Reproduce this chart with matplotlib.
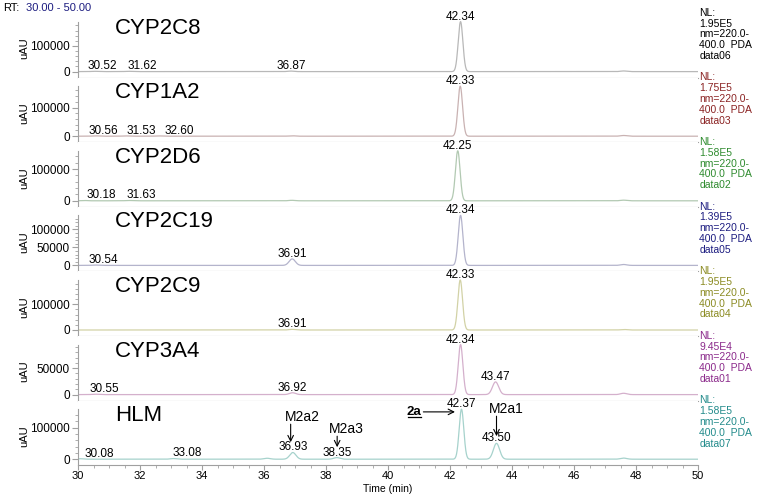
import numpy as np
import matplotlib
matplotlib.use("Agg")
import matplotlib.pyplot as plt
from matplotlib.ticker import FixedLocator, MultipleLocator

plt.rcParams['font.family'] = ['Liberation Sans', 'DejaVu Sans']

# panel names and full-scale (NL) values
enzymes = ["CYP2C8", "CYP1A2", "CYP2D6", "CYP2C19", "CYP2C9", "CYP3A4", "HLM"]
nl_values = [1.95e5, 1.75e5, 1.58e5, 1.39e5, 1.95e5, 9.45e4, 1.58e5]
nl_labels = ["1.95E5", "1.75E5", "1.58E5", "1.39E5", "1.95E5", "9.45E4", "1.58E5"]
data_files = ["data06", "data03", "data02", "data05", "data04", "data01", "data07"]

# peaks: retention time (min) and height (uAU)
peak_rt = [
    [30.52, 31.62, 36.87, 42.34, 47.6],
    [30.56, 31.53, 32.60, 36.9, 42.33, 47.6],
    [30.18, 31.63, 36.9, 42.25, 47.6],
    [30.54, 36.91, 42.34, 47.6],
    [36.91, 42.33, 47.6],
    [30.55, 36.92, 42.34, 43.47, 47.6],
    [30.08, 33.08, 36.1, 36.93, 38.35, 42.37, 43.50, 47.6],
]
peak_height = [
    [1200, 1200, 2000, 195000, 2500],
    [1200, 1000, 1000, 1500, 175000, 2500],
    [1000, 1000, 1500, 158000, 2000],
    [1000, 18000, 139000, 2500],
    [2500, 195000, 2000],
    [800, 3500, 94500, 24000, 2500],
    [1500, 2000, 3000, 21000, 5000, 158000, 50000, 3500],
]
# peaks that carry a retention-time label
labelled = [
    [30.52, 31.62, 36.87, 42.34],
    [30.56, 31.53, 32.60, 42.33],
    [30.18, 31.63, 42.25],
    [30.54, 36.91, 42.34],
    [36.91, 42.33],
    [30.55, 36.92, 42.34, 43.47],
    [30.08, 33.08, 36.93, 38.35, 42.37, 43.50],
]
major_y = [[0, 100000], [0, 100000], [0, 100000], [0, 50000, 100000],
           [0, 100000], [0, 50000], [0, 100000]]
minor_step = [20000, 20000, 20000, 10000, 20000, 10000, 20000]

# styling
trace_colors = ['#b8b8b8', '#c9b2b2', '#b2c9b2', '#b4b4cc', '#d2d2a6', '#d4b0cc', '#a6d2cc']
text_colors = ['#000000', '#8b2323', '#2e8b2e', '#1c1c80', '#8b8b22', '#8b2a8b', '#228b8b']
# labels of crowded early peaks are pushed right (pixels)
label_shift = {30.52: 8, 31.62: 14, 30.56: 8, 31.53: 16, 32.60: 21, 30.18: 18,
               31.63: 13, 30.54: 9, 30.55: 9, 30.08: 19, 33.08: 14}

x = np.linspace(30, 50, 4001)

W, H = 760, 496
fig = plt.figure(figsize=(W / 100, H / 100), dpi=100)
top_px, pitch = 13, 64.6
left_px, width_px = 78, 620

for i, name in enumerate(enzymes):
    y0 = H - (top_px + (i + 1) * pitch)
    ax = fig.add_axes([left_px / W, y0 / H, width_px / W, pitch / H])
    nl = nl_values[i]

    y = np.zeros_like(x)
    for rt, h in zip(peak_rt[i], peak_height[i]):
        sig = 0.075 if h > 0.5 * nl else 0.1
        y += h * np.exp(-0.5 * ((x - rt) / sig) ** 2)
    ax.plot(x, y, color=trace_colors[i], lw=0.9)

    ax.set_xlim(30, 50)
    ax.set_ylim(-0.12 * nl, 1.172 * nl)

    for rt in labelled[i]:
        h = np.interp(rt, x, y)
        dx = label_shift.get(rt, 0) * 0.72
        ax.annotate(f"{rt:.2f}", (rt, h), xytext=(dx, 1.5), textcoords='offset points',
                    ha='center', va='baseline', fontsize=8.5, color='black')

    ax.text(0.06, 0.93, name, transform=ax.transAxes, fontsize=16, va='top', ha='left')

    ax.text(1.002, 1.08, f"NL:\n{nl_labels[i]}\nnm=220.0-\n400.0  PDA\n{data_files[i]}",
            transform=ax.transAxes, fontsize=7.5, color=text_colors[i],
            va='top', ha='left', linespacing=1.1)

    for s in ['top', 'right']:
        ax.spines[s].set_visible(False)
    for s in ['left', 'bottom']:
        ax.spines[s].set_color('#a0a0a0')
        ax.spines[s].set_linewidth(0.8)
    ax.spines['left'].set_bounds(-0.12 * nl, nl)

    ax.yaxis.set_major_locator(FixedLocator(major_y[i]))
    ax.yaxis.set_minor_locator(FixedLocator(np.arange(0, nl, minor_step[i])))
    ax.tick_params(axis='y', which='major', labelsize=8.5, length=4, color='#a0a0a0', pad=2)
    ax.tick_params(axis='y', which='minor', length=2.5, color='#a0a0a0')
    ax.set_ylabel('uAU', fontsize=8)
    ax.yaxis.set_label_coords(-0.079, 0.45)

    if i < len(enzymes) - 1:
        ax.set_xticks([])
        ax.tick_params(axis='x', which='both', bottom=False, labelbottom=False)
    else:
        ax.xaxis.set_major_locator(MultipleLocator(2))
        ax.xaxis.set_minor_locator(MultipleLocator(0.5))
        ax.tick_params(axis='x', which='major', labelsize=8, length=3.5, color='#a0a0a0', pad=1)
        ax.tick_params(axis='x', which='minor', length=2.5, color='#a0a0a0')
        ax.set_xlabel('Time (min)', fontsize=7.5)
        ax.xaxis.set_label_coords(0.5, -0.285)

        arrow = dict(arrowstyle='->', color='black', lw=0.8, shrinkA=0, shrinkB=0)
        ax.annotate('', xy=(36.86, 53700), xytext=(36.86, 110600), arrowprops=arrow)
        ax.text(37.25, 132700, 'M2a2', fontsize=10, ha='center', va='center')
        ax.annotate('', xy=(38.36, 37900), xytext=(38.36, 72700), arrowprops=arrow)
        ax.text(38.67, 94800, 'M2a3', fontsize=10, ha='center', va='center')
        ax.annotate('', xy=(42.16, 149500), xytext=(41.14, 149500), arrowprops=arrow)
        ax.text(41.08, 149500, '2a', fontsize=9.5, fontweight='bold', ha='right', va='center')
        ax.plot([40.66, 41.08], [132000, 132000], color='black', lw=0.9)
        ax.annotate('', xy=(43.50, 72700), xytext=(43.50, 135900), arrowprops=arrow)
        ax.text(43.83, 158000, 'M2a1', fontsize=10, ha='center', va='center')

fig.text(3 / W, 1 - 8 / H, 'RT:', fontsize=8, va='center', ha='left')
fig.text(26 / W, 1 - 8 / H, '30.00 - 50.00', fontsize=8, va='center', ha='left',
         color='#1c1c80')

fig.savefig('out.png', dpi=100)
